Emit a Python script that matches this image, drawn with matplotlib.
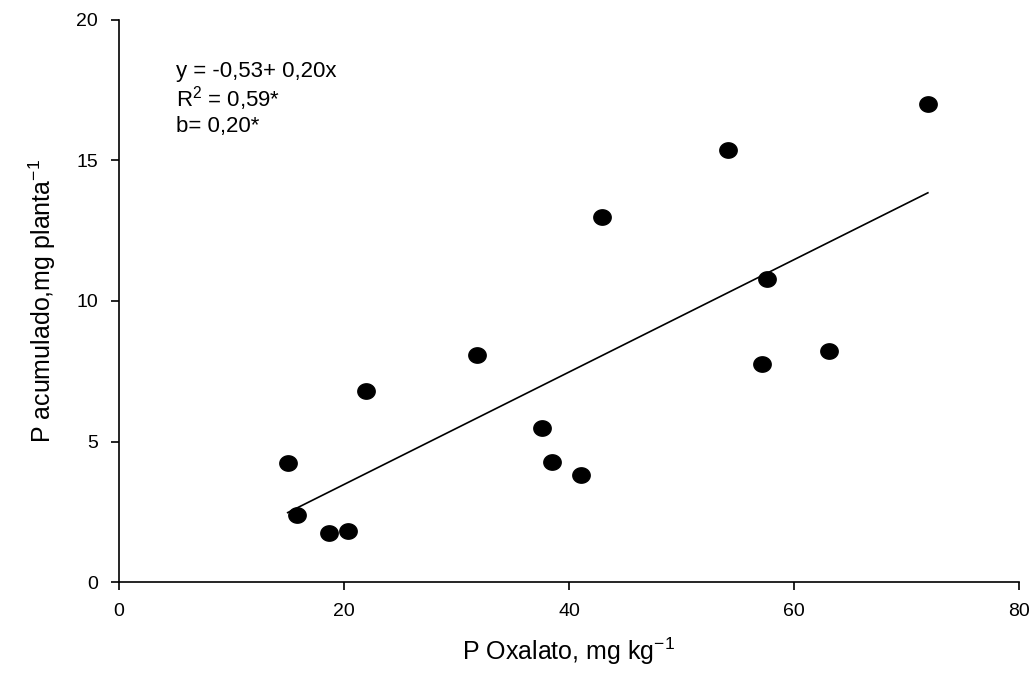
import numpy as np
import matplotlib
matplotlib.use("Agg")
from matplotlib import pyplot as plt
from matplotlib.path import Path

# P oxalato (x) vs P acumulado (y)
p_oxalato = [15.0, 15.8, 18.7, 20.4, 22.0, 31.8, 37.6, 38.5, 41.1, 42.9, 54.1, 57.2, 57.6, 63.1, 71.9]
p_acumulado = [4.23, 2.38, 1.74, 1.81, 6.80, 8.08, 5.48, 4.27, 3.81, 12.99, 15.37, 7.76, 10.78, 8.22, 17.0]

# fitted line y = a + b x
a, b = -0.53, 0.20
x_ticks = [0, 20, 40, 60, 80]
y_ticks = [0, 5, 10, 15, 20]

plt.rcParams['font.family'] = ['Liberation Sans', 'DejaVu Sans']
plt.rcParams['mathtext.fontset'] = 'custom'
plt.rcParams['mathtext.rm'] = 'Liberation Sans'
plt.rcParams['mathtext.it'] = 'Liberation Sans:italic'
plt.rcParams['mathtext.bf'] = 'Liberation Sans:bold'

# the dots in the original are slightly wider than tall
t = np.linspace(0, 2 * np.pi, 60)
ellipse = Path(np.column_stack([1.13 * np.cos(t), np.sin(t)]), closed=True)

fig = plt.figure(figsize=(10.34, 6.77), dpi=100)
ax = fig.add_axes([0.115, 0.1403, 0.8705, 0.8302])

ax.plot(p_oxalato, p_acumulado, linestyle='none', marker=ellipse, color='black',
        markersize=12.5, zorder=3)

xfit = np.array([min(p_oxalato), max(p_oxalato)])
ax.plot(xfit, a + b * xfit, color='black', linewidth=1.2)

ax.set_xlim(0, 80)
ax.set_ylim(0, 20)
ax.set_xticks(x_ticks)
ax.set_yticks(y_ticks)
ax.spines['top'].set_visible(False)
ax.spines['right'].set_visible(False)
ax.spines['left'].set_linewidth(1.2)
ax.spines['bottom'].set_linewidth(1.2)
ax.tick_params(direction='out', length=6, width=1.2, labelsize=14, pad=9)

ax.set_xlabel('P Oxalato, mg kg$^{-1}$', fontsize=18, labelpad=11)
ax.set_ylabel('P acumulado,mg planta$^{-1}$', fontsize=18, labelpad=13)

ax.text(5.1, 18.15, 'y = -0,53+ 0,20x', fontsize=16, va='center')
ax.text(5.1, 17.2, 'R$^2$ = 0,59*', fontsize=16, va='center')
ax.text(5.1, 16.2, 'b= 0,20*', fontsize=16, va='center')

fig.savefig('out.png', dpi=100)
